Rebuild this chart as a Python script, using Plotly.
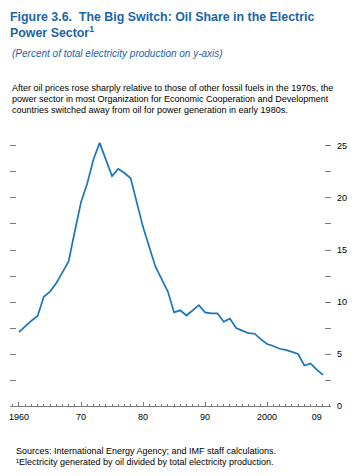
import plotly.graph_objects as go

years = list(range(1960, 2010))
oil_share = [7.1, 7.7, 8.2, 8.65, 10.5, 11.0, 11.8, 12.85, 13.9, 16.8,
             19.6, 21.4, 23.7, 25.3, 23.7, 22.1, 22.8, 22.4, 21.9, 19.6,
             17.2, 15.3, 13.4, 12.2, 11.0, 9.0, 9.2, 8.7, 9.2, 9.7,
             9.0, 8.9, 8.9, 8.1, 8.4, 7.5, 7.25, 7.0, 6.95, 6.4,
             5.96, 5.77, 5.5, 5.4, 5.2, 5.0, 3.9, 4.1, 3.5, 3.0]

x_tick_vals = [1960, 1970, 1980, 1990, 2000]
x_label_vals = [1960, 1970, 1980, 1990, 2000, 2008]
x_label_text = ["1960", "70", "80", "90", "2000", "09"]
y_tick_vals = [0, 2.5, 5, 7.5, 10, 12.5, 15, 17.5, 20, 22.5, 25]
y_tick_text = ["0", "", "5", "", "10", "", "15", "", "20", "", "25"]

FONT = "Liberation Sans, Arial, Helvetica, sans-serif"
BLUE = "#1b64a8"
TICK = "#7a7a7a"

W, H = 346, 460          # page body has an 8px margin
PL, PR, PT, PB = 2, 323, 133, 398   # plot area in figure pixels

fig = go.Figure()
fig.add_trace(go.Scatter(x=years, y=oil_share, mode="lines",
                         line=dict(color="#1a75bb", width=1.7),
                         hoverinfo="skip", showlegend=False))
fig.add_trace(go.Scatter(x=[years[0]], y=[oil_share[0]], xaxis="x2", yaxis="y2",
                         mode="markers", marker=dict(opacity=0), showlegend=False,
                         hoverinfo="skip"))

XR = [1958.55, 2010.3]
YR = [0, 25.48]

fig.update_layout(
    width=W, height=H,
    margin=dict(l=PL, r=W - PR, t=PT, b=H - PB, autoexpand=False),
    paper_bgcolor="white", plot_bgcolor="white",
    font=dict(family=FONT, size=9, color="black"),
    xaxis=dict(range=XR, showgrid=False, zeroline=False, showline=True,
               linecolor=TICK, linewidth=1, ticks="inside", ticklen=4,
               tickcolor=TICK, tickwidth=1, tickvals=x_tick_vals,
               showticklabels=False,
               minor=dict(dtick=1, tick0=1960, ticks="inside", ticklen=2.5,
                          tickcolor=TICK, tickwidth=1, showgrid=False)),
    xaxis2=dict(range=XR, overlaying="x", showgrid=False, zeroline=False,
                showline=False, ticks="", tickvals=x_label_vals,
                ticktext=x_label_text, side="bottom", ticklabelstandoff=4,
                tickfont=dict(size=9, family=FONT, color="black")),
    yaxis=dict(range=YR, showgrid=False, zeroline=False, showline=False,
               ticks="inside", ticklen=6, tickcolor=TICK, tickwidth=1,
               tickvals=y_tick_vals, showticklabels=False),
    yaxis2=dict(range=YR, overlaying="y", side="right", showgrid=False,
                zeroline=False, showline=False, ticks="inside", ticklen=6,
                tickcolor=TICK, tickwidth=1, tickvals=y_tick_vals,
                ticktext=y_tick_text, ticklabelstandoff=5,
                tickfont=dict(size=9, family=FONT, color="black")),
)

def px(x):
    return (x - PL) / (PR - PL)

def py(y):
    return (PB - y) / (PB - PT)

anns = [
    dict(text="<b>Figure 3.6.  The Big Switch: Oil Share in the Electric</b>",
         x=px(1), y=py(1), font=dict(size=12.4, color=BLUE)),
    dict(text="<b>Power Sector<sup>1</sup></b>",
         x=px(1), y=py(14.5), font=dict(size=12.4, color=BLUE)),
    dict(text="<i>(Percent of total electricity production on y-axis)</i>",
         x=px(3), y=py(39.5), font=dict(size=10, color=BLUE)),
    dict(text="After oil prices rose sharply relative to those of other fossil fuels in the 1970s, the",
         x=px(3), y=py(74), font=dict(size=9, color="black")),
    dict(text="power sector in most Organization for Economic Cooperation and Development",
         x=px(3), y=py(85), font=dict(size=9, color="black")),
    dict(text="countries switched away from oil for power generation in early 1980s.",
         x=px(3), y=py(96), font=dict(size=9, color="black")),
    dict(text="Sources: International Energy Agency; and IMF staff calculations.",
         x=px(7), y=py(436.5), font=dict(size=9, color="black")),
    dict(text="¹Electricity generated by oil divided by total electricity production.",
         x=px(7), y=py(447.5), font=dict(size=9, color="black")),
]
for a in anns:
    fig.add_annotation(xref="paper", yref="paper", xanchor="left", yanchor="top",
                       showarrow=False, align="left", borderpad=0,
                       font_family=FONT, **a)

fig.write_html("out.html")
